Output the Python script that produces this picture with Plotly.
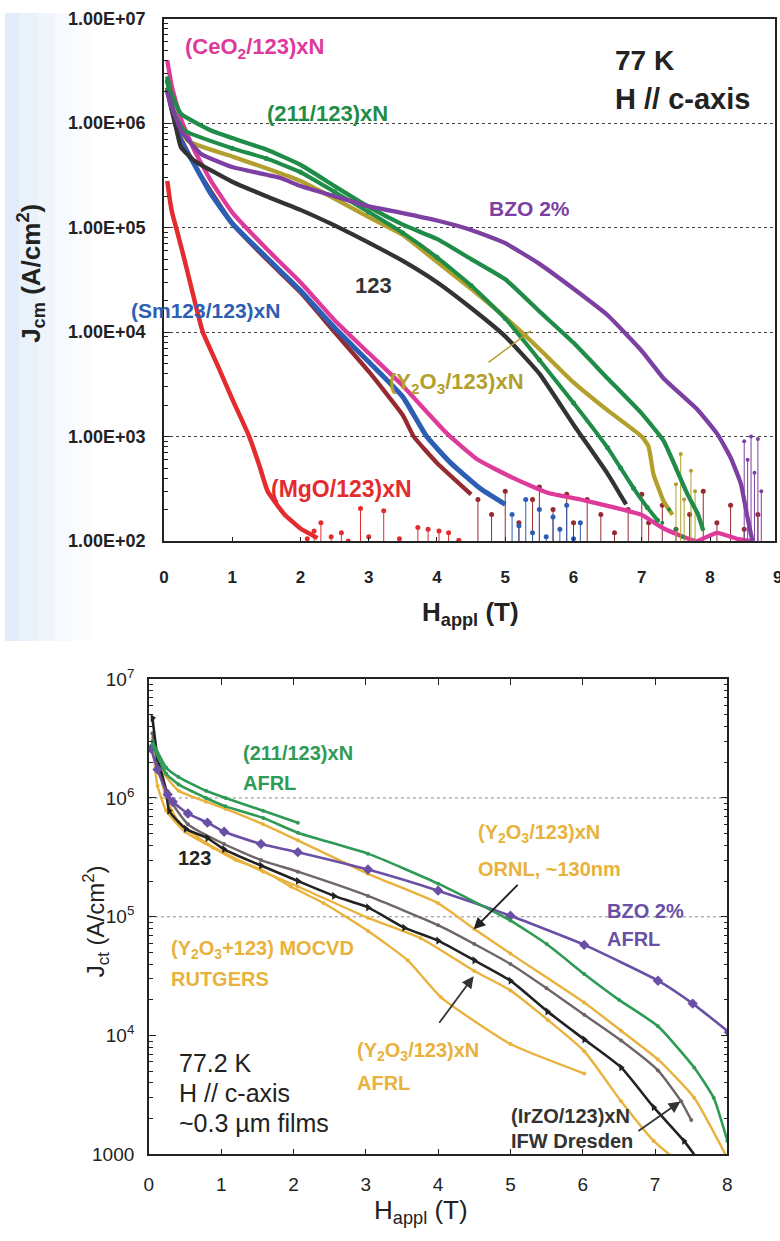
import plotly.graph_objects as go

W, H = 780, 1241
# the photographed page shows a thin white border; map target picture pixels to page pixels
def PX(x): return (x - 4.0) / 0.988
def PY(y): return (y - 12.3) / 0.98
def px(x): return PX(x) / W
def py(y): return 1 - PY(y) / H

# ---------------- TOP PANEL DATA (77 K, H // c) ----------------
red_H = [0.05,0.08,0.12,0.2,0.3,0.45,0.57,0.8,1.0,1.25,1.4,1.52,1.76,2.0,2.25]
red_J = [2.8e5,2.0e5,1.4e5,8.9e4,5.0e4,2.0e4,1.0e4,4.6e3,2.3e3,1.0e3,525,300,182,132,107]
red_tail_H = [2.1,2.2,2.3,2.45,2.6,2.7,2.88,3.0,3.22,3.45,3.72,3.87,4.03,4.17,4.32]
red_tail_J = [105,125,150,110,120,100,205,110,195,105,135,130,125,120,102]

pink_H = [0.05,0.12,0.25,0.44,0.69,1.0,1.5,2.0,2.5,3.0,3.47,4.16,4.6,5.12,5.62,6.1,6.59,7.0,7.32,7.8,8.1,8.4,8.6]
pink_J = [4.0e6,2.2e6,1.1e6,5.6e5,2.8e5,1.4e5,6.3e4,3.0e4,1.3e4,6.3e3,3.2e3,1.05e3,600,400,290,250,210,178,132,100,120,105,100]

blue_H = [0.05,0.1,0.25,0.44,0.69,1.0,1.5,2.0,2.5,3.0,3.5,3.85,4.2,4.64,5.0]
blue_J = [2.2e6,1.55e6,6.8e5,4.1e5,2.1e5,1.1e5,5.2e4,2.5e4,1.1e4,5.2e3,2.4e3,1.0e3,560,316,224]
blue_tail_H = [5.1,5.2,5.3,5.4,5.5,5.6,5.7,5.8,5.9,6.0,6.1]
blue_tail_J = [180,140,250,120,200,110,170,130,220,105,150]

brown_H = [0.05,0.2,0.5,1.0,1.5,2.0,2.5,3.0,3.5,3.66,4.0,4.5]
brown_J = [2.0e6,8.3e5,3.5e5,1.1e5,5.0e4,2.4e4,1.0e4,4.2e3,1.6e3,1.0e3,560,280]
brown_tail_H = [4.6,4.8,5.0,5.2,5.4,5.5,5.7,5.9,6.0,6.2,6.4,6.6,6.8,7.0,7.1,7.3,7.5,7.7,7.9,8.1,8.3,8.5,8.7]
brown_tail_J = [250,180,300,150,250,330,200,280,150,250,180,120,200,280,150,220,130,180,300,150,220,130,180]

black_H = [0.05,0.1,0.25,0.44,1.0,1.5,2.0,2.5,3.0,3.5,4.0,4.5,5.0,5.5,6.0,6.5,6.77]
black_J = [2.1e6,1.6e6,5.9e5,4.4e5,2.75e5,2.0e5,1.48e5,1.05e5,7.2e4,4.8e4,3.0e4,1.7e4,9.1e3,4.0e3,1.3e3,440,224]

olive_H = [0.05,0.1,0.35,1.0,1.5,2.0,2.5,3.0,3.5,4.0,4.5,5.0,5.5,6.0,6.5,7.0,7.1,7.17,7.32,7.45]
olive_J = [2.8e6,1.6e6,6.8e5,4.8e5,3.7e5,2.8e5,1.9e5,1.26e5,8.5e4,4.7e4,2.6e4,1.38e4,6.9e3,3.3e3,1.78e3,1.0e3,800,440,240,178]
olive_tail_H = [7.5,7.57,7.62,7.72,7.78]
olive_tail_J = [350,680,250,470,300]

green1_H = [0.05,0.1,0.25,0.69,1.0,1.5,2.0,2.5,3.0,3.5,4.0,4.5,5.0,5.5,6.0,6.5,7.0,7.32,7.5,7.67,7.82,7.9]
green1_J = [2.8e6,2.0e6,1.23e6,8.5e5,7.2e5,5.6e5,4.0e5,2.5e5,1.58e5,1.07e5,7.8e4,5.0e4,3.2e4,1.58e4,7.9e3,3.6e3,1.66e3,910,500,280,182,126]

green2_H = [0.05,0.15,0.3,1.0,1.5,2.0,2.5,3.0,3.5,4.0,4.5,5.0,5.5,6.0,6.5,6.69,6.88,7.08,7.23]
green2_J = [2.5e6,1.26e6,8.5e5,5.75e5,4.6e5,3.4e5,2.2e5,1.41e5,8.9e4,5.2e4,2.8e4,1.35e4,5.4e3,2.1e3,780,500,320,210,158]
green2_tail_H = [7.3,7.4,7.5,7.6]
green2_tail_J = [150,200,130,110]

bzo_H = [0.05,0.15,0.25,0.54,1.0,1.7,2.0,2.5,3.0,3.5,4.0,4.5,5.0,5.5,6.0,6.5,7.0,7.32,7.82,8.11,8.3,8.45,8.55,8.62]
bzo_J = [2.0e6,1.26e6,8.5e5,5.1e5,3.8e5,3.0e5,2.5e5,2.0e5,1.6e5,1.38e5,1.17e5,9.5e4,7.1e4,4.5e4,2.6e4,1.45e4,6.6e3,3.6e3,1.8e3,1.05e3,630,355,166,100]
bzo_tail_H = [8.5,8.55,8.6,8.65,8.7,8.75]
bzo_tail_J = [900,600,1000,450,950,300]

top_ytick_vals = [1e2,1e3,1e4,1e5,1e6,1e7]
top_ytick_text = ["1.00E+02","1.00E+03","1.00E+04","1.00E+05","1.00E+06","1.00E+07"]
top_xtick_vals = [0,1,2,3,4,5,6,7,8]
top_last_tick = 9

# ---------------- BOTTOM PANEL DATA (77.2 K) ----------------
g211a_H = [0.05,0.24,0.41,0.79,1.06,1.58,2.06]
g211a_J = [3.0e6,1.8e6,1.5e6,1.15e6,1.0e6,7.8e5,6.2e5]
g211b_H = [0.05,0.24,0.41,0.79,1.06,1.58,2.06,3.03,4.0,5.0,5.5,6.02,6.5,7.04,7.54,7.81,8.0]
g211b_J = [2.8e6,1.6e6,1.3e6,1.0e6,8.5e5,6.8e5,5.1e5,3.4e5,1.9e5,9.3e4,5.9e4,3.3e4,2.0e4,1.2e4,5.4e3,3.0e3,1.3e3]

bzo2_H = [0.03,0.12,0.26,0.33,0.54,0.81,1.04,1.55,2.06,3.03,4.0,5.0,6.02,7.04,7.52,8.02]
bzo2_J = [2.6e6,1.74e6,1.07e6,9.3e5,7.4e5,6.2e5,5.2e5,4.1e5,3.5e5,2.5e5,1.66e5,1.02e5,5.8e4,2.9e4,1.86e4,1.07e4]

y123_H = [0.05,0.12,0.24,0.28,0.51,0.81,1.04,1.55,2.06,2.56,3.03,3.53,4.0,4.5,5.0,5.51,6.02,6.53,6.98,7.4,7.6]
y123_J = [4.7e6,2.2e6,1.15e6,7.8e5,5.5e5,4.6e5,3.7e5,2.7e5,2.0e5,1.5e5,1.2e5,8.1e4,6.3e4,4.3e4,2.9e4,1.6e4,9.3e3,5.4e3,2.5e3,1.3e3,890]

irzo_H = [0.05,0.15,0.3,0.54,1.04,1.55,2.06,3.03,4.0,4.5,5.0,5.5,6.02,6.53,7.04,7.36,7.5]
irzo_J = [3.5e6,1.6e6,9.5e5,6.0e5,4.1e5,3.0e5,2.4e5,1.5e5,8.5e4,5.9e4,4.0e4,2.5e4,1.5e4,9.1e3,5.1e3,2.8e3,1.95e3]

ya_H = [0.05,0.15,0.41,0.79,1.06,1.58,2.06,3.03,4.0,4.5,5.0,6.02,6.53,7.04,7.54,8.0]
ya_J = [3.2e6,1.8e6,1.15e6,9.3e5,8.1e5,6.0e5,4.4e5,2.3e5,1.3e5,7.9e4,4.9e4,1.9e4,1.1e4,6.3e3,3.0e3,930]

yb_H = [0.05,0.12,0.24,0.41,0.79,1.06,1.58,2.06,3.03,3.76,4.5,5.0,5.52,6.02,6.53,6.98,7.3]
yb_J = [3.5e6,2.0e6,1.0e6,6.3e5,4.2e5,3.4e5,2.4e5,1.8e5,9.8e4,6.6e4,3.5e4,2.4e4,1.35e4,7.4e3,2.8e3,1.3e3,890]

yc_H = [0.05,0.12,0.24,0.5,0.89,1.2,1.55,1.96,2.42,3.03,3.58,4.04,5.0,6.02]
yc_J = [2.8e6,1.26e6,7.8e5,5.2e5,3.8e5,3.0e5,2.5e5,1.8e5,1.3e5,7.6e4,4.3e4,2.1e4,8.5e3,4.8e3]

bot_ytick_vals = [1e3,1e4,1e5,1e6,1e7]
bot_ytick_text = ["1000","10<sup>4</sup>","10<sup>5</sup>","10<sup>6</sup>","10<sup>7</sup>"]
bot_xtick_vals = [0,1,2,3,4,5,6,7,8]

# ---------------- COLOURS ----------------
C_RED = "#e42b2e"; C_PINK = "#dd3a9c"; C_BLUE = "#2c5fb3"; C_BROWN = "#962a30"
C_BLACK = "#333333"; C_OLIVE = "#b3a02c"; C_GREEN = "#1f8c48"; C_PURPLE = "#7d40a2"
B_GREEN = "#2f9a55"; B_PURPLE = "#6a4fa6"; B_BLACK = "#222222"; B_GREY = "#6f6468"; B_YEL = "#e8b23c"

FONT = "Liberation Sans, Arial, sans-serif"

fig = go.Figure()

def line(x, y, color, width=4.3, xa="x", ya="y", marker=None, msize=4, smooth=0.4):
    fig.add_trace(go.Scatter(
        x=x, y=y, xaxis=xa, yaxis=ya,
        mode="lines+markers" if marker else "lines",
        line=dict(color=color, width=width, shape="spline", smoothing=smooth),
        marker=dict(symbol=marker or "circle", size=msize, color=color),
        showlegend=False, hoverinfo="skip"))

def pts(x, y, color, size=5, drop=False, xa="x", ya="y", floor=100):
    kw = {}
    if drop:
        kw["error_y"] = dict(type="data", symmetric=False, array=[0]*len(y),
                             arrayminus=[v - floor for v in y], thickness=1, width=0, color=color)
    fig.add_trace(go.Scatter(x=x, y=y, xaxis=xa, yaxis=ya, mode="markers",
                             marker=dict(color=color, size=size),
                             showlegend=False, hoverinfo="skip", **kw))

# top panel traces
line(brown_H, brown_J, C_BROWN)
pts(brown_tail_H, brown_tail_J, C_BROWN, 5, drop=True)
line(blue_H, blue_J, C_BLUE, 5.0)
pts(blue_tail_H, blue_tail_J, C_BLUE, 5, drop=True)
line(pink_H, pink_J, C_PINK)
line(black_H, black_J, C_BLACK)
line(olive_H, olive_J, C_OLIVE)
pts(olive_tail_H, olive_tail_J, C_OLIVE, 4, drop=True)
line(green2_H, green2_J, C_GREEN, 4.0, marker="circle", msize=5)
pts(green2_tail_H, green2_tail_J, C_GREEN, 4)
line(green1_H, green1_J, C_GREEN)
line(bzo_H, bzo_J, C_PURPLE)
pts(bzo_tail_H, bzo_tail_J, C_PURPLE, 4, drop=True)
line(red_H, red_J, C_RED, 4.5)
pts(red_tail_H, red_tail_J, C_RED, 5, drop=True)

# bottom panel traces
line(yc_H, yc_J, B_YEL, 2.4, "x2", "y2", "circle", 4, 0.5)
line(yb_H, yb_J, B_YEL, 2.4, "x2", "y2", "circle", 4, 0.5)
line(ya_H, ya_J, B_YEL, 2.4, "x2", "y2", "circle", 4, 0.5)
line(irzo_H, irzo_J, B_GREY, 2.4, "x2", "y2", "circle", 4, 0.5)
line(y123_H, y123_J, B_BLACK, 2.6, "x2", "y2", "triangle-right", 7, 0.5)
line(bzo2_H, bzo2_J, B_PURPLE, 2.6, "x2", "y2", "diamond", 8, 0.5)
line(g211a_H, g211a_J, B_GREEN, 2.6, "x2", "y2", "circle", 4, 0.5)
line(g211b_H, g211b_J, B_GREEN, 2.6, "x2", "y2", "circle", 4, 0.5)

# ---------------- AXES ----------------
# top x: 0 T at picture x=163, 9 T at picture x=778 (beyond page edge)
tx0, tx9 = PX(163), PX(778)
top_xmax = top_last_tick * (W - tx0) / (tx9 - tx0)

ax_common = dict(showline=True, linecolor="#222", linewidth=1.5, zeroline=False)
fig.update_layout(
    width=W, height=H, margin=dict(l=0, r=0, t=0, b=0),
    paper_bgcolor="white", plot_bgcolor="white",
    font=dict(family=FONT, color="#222"),
    xaxis=dict(domain=[tx0 / W, 1.0], range=[0, top_xmax], anchor="y",
               tickvals=top_xtick_vals, ticks="inside", ticklen=4, tickcolor="#222",
               mirror=True, showgrid=False, ticklabelstandoff=20,
               tickfont=dict(size=17, weight="bold", color="#222"), **ax_common),
    yaxis=dict(domain=[py(540), py(18)], type="log", range=[2, 7], anchor="x",
               tickvals=top_ytick_vals, ticktext=top_ytick_text,
               ticks="inside", ticklen=6, tickcolor="#222", mirror=True,
               minor=dict(ticks="inside", ticklen=4, dtick="D1", tickcolor="#222", showgrid=False),
               showgrid=True, gridcolor="#444", griddash="dot", gridwidth=1,
               ticklabelstandoff=13,
               tickfont=dict(size=18, weight="bold", color="#222"), **ax_common),
    xaxis2=dict(domain=[px(148), px(727)], range=[0, 8], anchor="y2",
                tickvals=bot_xtick_vals, ticks="inside", ticklen=6, tickcolor="#222",
                mirror="ticks", showgrid=False, ticklabelstandoff=12,
                tickfont=dict(size=19, color="#222"), **ax_common),
    yaxis2=dict(domain=[py(1153), py(678)], type="log", range=[3, 7], anchor="x2",
                tickvals=bot_ytick_vals, ticktext=bot_ytick_text,
                ticks="inside", ticklen=7, tickcolor="#222", mirror="ticks",
                minor=dict(ticks="inside", ticklen=4, dtick="D1", tickcolor="#222", showgrid=False),
                showgrid=False, ticklabelstandoff=9,
                tickfont=dict(size=19, color="#222"), **ax_common),
)

shapes = []
# faint scan tint at left of the top panel
for i, a in enumerate([0.35, 0.26, 0.18, 0.11, 0.05]):
    shapes.append(dict(type="rect", xref="paper", yref="paper", layer="below",
                       x0=max(0, px(i*18)), x1=px(i*18+18), y0=py(640), y1=1.0,
                       fillcolor=f"rgba(170,200,235,{a})", line=dict(width=0)))
# dotted grid lines in lower panel
for v in [1e5, 1e6]:
    shapes.append(dict(type="line", xref="x2 domain", yref="y2", x0=0, x1=1, y0=v, y1=v,
                       line=dict(color="#888", width=1, dash="dot"), layer="below"))
fig.update_layout(shapes=shapes)

ann = []
def txt(x, y, s, color, size=16, bold=True, anchor="left", angle=0):
    ann.append(dict(x=px(x), y=py(y), xref="paper", yref="paper", text=s, showarrow=False,
                    xanchor=anchor, yanchor="middle", textangle=angle,
                    font=dict(family=FONT, size=size, color=color, weight="bold" if bold else "normal")))

def arrow(x_tail, y_tail, x_head, y_head, color, head=2, width=1.8):
    ann.append(dict(x=px(x_head), y=py(y_head), xref="paper", yref="paper", text="",
                    showarrow=True, ax=PX(x_tail) - PX(x_head), ay=PY(y_tail) - PY(y_head),
                    arrowhead=head, arrowsize=1.3, arrowwidth=width, arrowcolor=color))

# sliver of the "9" tick label at the right edge of the top panel
ann.append(dict(x=1.0, y=py(576), xref="paper", yref="paper", text=str(top_last_tick),
                showarrow=False, xanchor="left", yanchor="middle", xshift=-4,
                font=dict(family=FONT, size=17, color="#222", weight="bold")))

# top labels
txt(182, 47, "(CeO<sub>2</sub>/123)xN", C_PINK, 22)
txt(264, 113, "(211/123)xN", C_GREEN, 22)
txt(613, 60, "77 K", "#222", 28)
txt(613, 98, "H // c-axis", "#222", 29)
txt(486, 208, "BZO 2%", C_PURPLE, 21)
txt(352, 285, "123", "#333", 22)
txt(128, 310, "(Sm123/123)xN", C_BLUE, 21)
txt(386, 382, "(Y<sub>2</sub>O<sub>3</sub>/123)xN", C_OLIVE, 22)
txt(268, 488, "(MgO/123)xN", C_RED, 23)
arrow(487, 362, 530, 330, C_OLIVE, head=0, width=1.5)
txt(30, 272, "J<sub>cm</sub> (A/cm<sup>2</sup>)", "#222", 26, True, "center", -90)
txt(470, 612, "H<sub>appl</sub> (T)", "#222", 26, True, "center")

# bottom labels
txt(240, 752, "(211/123)xN", B_GREEN, 20)
txt(240, 782, "AFRL", B_GREEN, 20)
txt(175, 857, "123", "#222", 20)
txt(475, 832, "(Y<sub>2</sub>O<sub>3</sub>/123)xN", B_YEL, 20)
txt(475, 868, "ORNL, ~130nm", B_YEL, 20)
txt(604, 910, "BZO 2%", B_PURPLE, 20)
txt(604, 938, "AFRL", B_PURPLE, 20)
txt(168, 948, "(Y<sub>2</sub>O<sub>3</sub>+123) MOCVD", B_YEL, 20)
txt(168, 978, "RUTGERS", B_YEL, 20)
txt(354, 1050, "(Y<sub>2</sub>O<sub>3</sub>/123)xN", B_YEL, 20)
txt(354, 1082, "AFRL", B_YEL, 20)
txt(176, 1062, "77.2 K", "#222", 25, False)
txt(176, 1092, "H // c-axis", "#222", 25, False)
txt(176, 1122, "~0.3 µm films", "#222", 25, False)
txt(508, 1115, "(IrZO/123)xN", "#333", 20)
txt(508, 1140, "IFW Dresden", "#333", 20)
arrow(518, 883, 473, 928, "#222")
arrow(438, 1022, 473, 975, "#333")
arrow(637, 1130, 680, 1100, "#333")
txt(95, 920, "J<sub>ct</sub> (A/cm<sup>2</sup>)", "#222", 24, False, "center", -90)
txt(420, 1210, "H<sub>appl</sub> (T)", "#222", 26, False, "center")

fig.update_layout(annotations=ann)
fig.write_html("out.html", config={"responsive": False, "displayModeBar": False},
               post_script="document.body.style.margin='0px';document.body.style.padding='0px';document.body.style.overflow='hidden';")
